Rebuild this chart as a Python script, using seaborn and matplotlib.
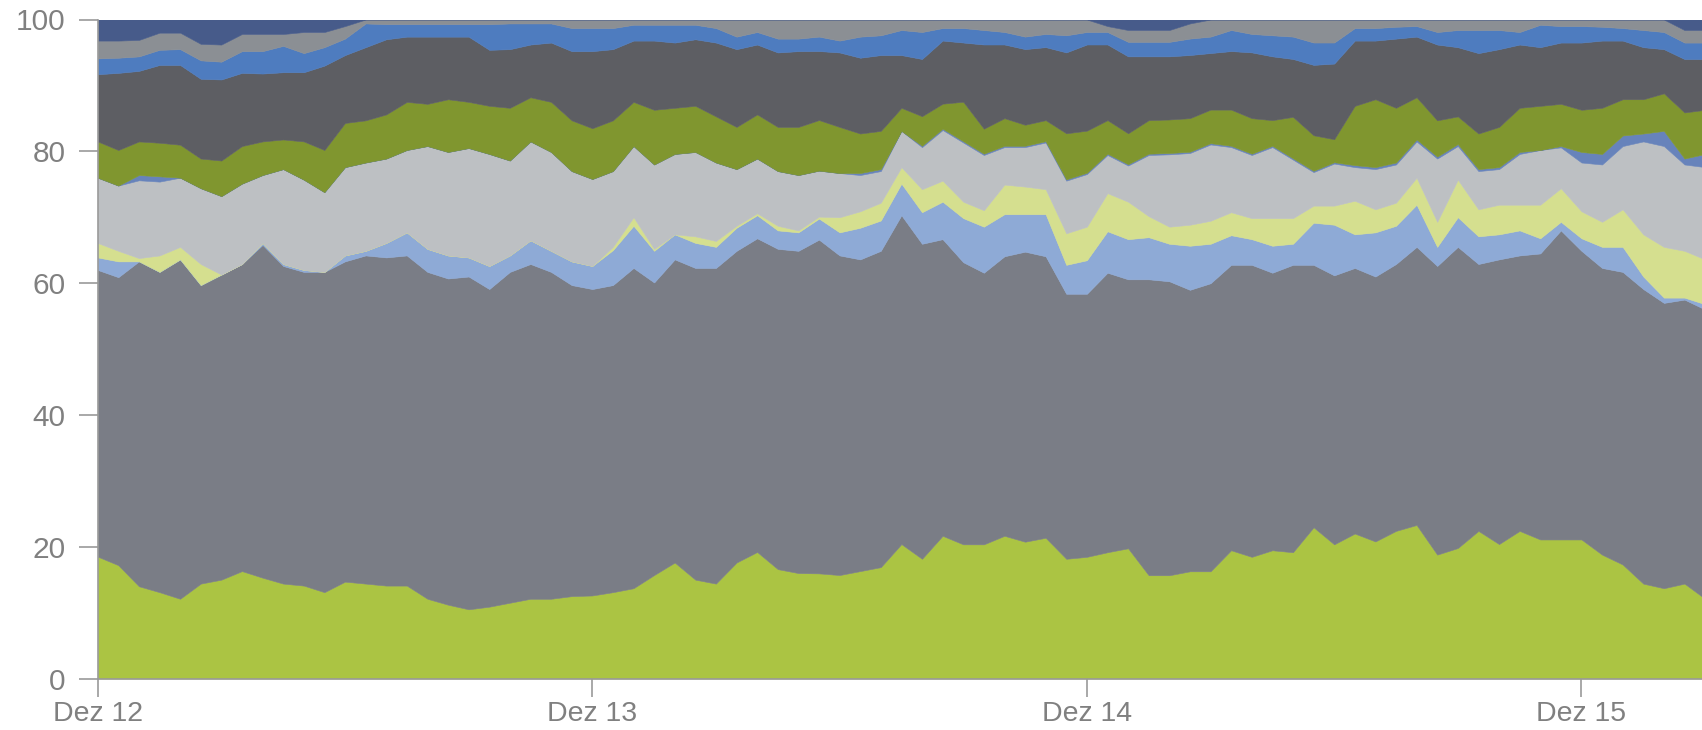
import numpy as np
import pandas as pd
import matplotlib
matplotlib.use("Agg")
import matplotlib.pyplot as plt
import seaborn as sns

# Stündliche Anteile in %, von unten nach oben gestapelt (Dez 12 00:00 bis ca. Dez 15 06:00)
hours = pd.date_range("2013-12-12 00:00", periods=79, freq="h")

lime = [18.5, 17.2, 14.0, 13.1, 12.1, 14.4, 15.0, 16.3, 15.3, 14.4,
        14.1, 13.1, 14.7, 14.4, 14.1, 14.1, 12.1, 11.2, 10.5, 10.9,
        11.5, 12.1, 12.1, 12.5, 12.6, 13.1, 13.7, 15.7, 17.6, 15.0,
        14.4, 17.6, 19.2, 16.6, 16.0, 16.0, 15.7, 16.3, 16.9, 20.4,
        18.2, 21.7, 20.4, 20.4, 21.7, 20.8, 21.4, 18.2, 18.5, 19.2,
        19.8, 15.7, 15.7, 16.3, 16.3, 19.5, 18.5, 19.5, 19.2, 23.0,
        20.4, 22.0, 20.8, 22.4, 23.3, 18.8, 19.8, 22.4, 20.4, 22.4,
        21.1, 21.1, 21.1, 18.8, 17.3, 14.4, 13.7, 14.4, 12.1]
gray = [43.5, 43.7, 49.3, 48.6, 51.5, 45.3, 46.3, 46.6, 50.5, 48.2,
        47.6, 48.6, 48.6, 49.8, 49.8, 50.1, 49.6, 49.5, 50.5, 48.2,
        50.2, 50.8, 49.6, 47.2, 46.5, 46.6, 48.6, 44.4, 46.0, 47.3,
        47.9, 47.3, 47.6, 48.6, 48.9, 50.8, 48.5, 47.3, 48.0, 49.9,
        47.9, 45.1, 42.9, 41.3, 42.5, 44.1, 42.8, 40.3, 40.0, 42.5,
        40.9, 45.0, 44.7, 42.8, 43.8, 43.4, 44.4, 42.2, 43.7, 39.9,
        40.9, 40.3, 40.2, 40.5, 42.2, 43.8, 45.7, 40.5, 43.2, 41.8,
        43.4, 46.9, 43.8, 43.5, 44.4, 44.7, 43.3, 43.1, 43.9]
light_blue = [1.9, 2.4, 0.0, 0.0, 0.0, 0.0, 0.0, 0.0, 0.3, 0.3,
              0.3, 0.0, 0.9, 0.7, 2.2, 3.5, 3.5, 3.5, 2.9, 3.5,
              2.5, 3.6, 3.2, 3.6, 3.5, 5.3, 6.4, 4.8, 3.8, 3.8,
              3.2, 3.5, 3.5, 2.8, 2.8, 3.2, 3.5, 4.8, 4.6, 4.8,
              4.8, 5.7, 6.7, 7.0, 6.4, 5.7, 6.4, 4.4, 5.1, 6.3,
              6.1, 6.4, 5.7, 6.7, 6.0, 4.5, 3.9, 4.1, 3.2, 6.4,
              7.7, 5.1, 6.7, 5.8, 6.4, 2.9, 4.5, 4.2, 3.8, 3.8,
              2.3, 1.3, 1.9, 3.2, 3.8, 1.9, 0.8, 0.3, 0.8]
light_yellow = [2.2, 1.6, 0.5, 2.5, 1.9, 3.2, 0.0, 0.0, 0.0, 0.0,
                0.0, 0.0, 0.0, 0.0, 0.0, 0.0, 0.0, 0.0, 0.0, 0.0,
                0.0, 0.0, 0.0, 0.0, 0.0, 0.5, 1.3, 0.3, 0.0, 1.0,
                0.9, 0.3, 0.3, 0.7, 0.3, 0.3, 2.3, 2.5, 2.7, 2.5,
                3.5, 3.2, 2.5, 2.5, 4.5, 4.2, 3.8, 4.8, 5.1, 5.8,
                5.7, 3.2, 2.6, 3.2, 3.5, 3.5, 3.2, 4.2, 3.9, 2.6,
                2.9, 5.1, 3.5, 3.5, 4.1, 3.8, 5.7, 4.1, 4.5, 3.9,
                5.1, 5.1, 4.1, 3.8, 5.7, 6.4, 7.7, 7.1, 6.8]
light_gray = [9.9, 9.9, 11.8, 11.2, 10.5, 11.5, 11.9, 12.2, 10.3, 14.4,
              13.7, 12.1, 13.4, 13.4, 12.8, 12.5, 15.6, 15.7, 16.6, 17.0,
              14.4, 15.0, 15.0, 13.7, 13.2, 11.5, 10.8, 12.8, 12.2, 12.8,
              11.9, 8.6, 8.3, 8.3, 8.4, 7.0, 6.7, 5.5, 4.8, 5.5,
              6.4, 7.7, 9.0, 8.4, 5.7, 6.0, 7.1, 8.0, 8.0, 5.8,
              5.5, 9.3, 11.0, 10.9, 11.6, 9.9, 9.6, 10.8, 8.9, 5.1,
              6.4, 5.1, 6.1, 5.8, 5.5, 9.6, 5.1, 5.8, 5.4, 7.7,
              8.3, 6.2, 7.4, 8.7, 9.6, 14.1, 15.3, 13.1, 14.0]
slate = [0.0, 0.0, 0.8, 0.8, 0.0, 0.0, 0.0, 0.0, 0.0, 0.0,
         0.0, 0.0, 0.0, 0.0, 0.0, 0.0, 0.0, 0.0, 0.0, 0.0,
         0.0, 0.0, 0.0, 0.0, 0.0, 0.0, 0.0, 0.0, 0.0, 0.0,
         0.0, 0.0, 0.0, 0.0, 0.0, 0.0, 0.0, 0.3, 0.3, 0.0,
         0.2, 0.2, 0.2, 0.2, 0.2, 0.2, 0.2, 0.2, 0.2, 0.2,
         0.2, 0.2, 0.2, 0.2, 0.2, 0.2, 0.2, 0.2, 0.2, 0.2,
         0.2, 0.3, 0.3, 0.3, 0.3, 0.3, 0.3, 0.3, 0.3, 0.3,
         0.0, 0.2, 1.6, 1.6, 1.6, 1.2, 2.3, 0.9, 2.0]
olive = [5.5, 5.4, 5.1, 5.1, 5.0, 4.5, 5.4, 5.7, 5.1, 4.5,
         5.8, 6.4, 6.7, 6.4, 6.7, 7.3, 6.4, 8.0, 7.0, 7.3,
         8.0, 6.7, 7.6, 7.7, 7.7, 7.7, 6.7, 8.3, 7.0, 7.0,
         7.0, 6.4, 6.7, 6.7, 7.3, 7.7, 7.0, 6.0, 5.8, 3.5,
         4.5, 3.8, 6.0, 3.8, 4.2, 3.2, 3.2, 7.0, 6.4, 5.1,
         4.7, 5.1, 5.1, 5.1, 5.1, 5.5, 5.4, 3.9, 6.3, 5.4,
         3.5, 9.0, 10.3, 8.3, 6.4, 5.5, 4.2, 5.4, 6.1, 6.7,
         6.7, 6.4, 6.4, 7.0, 5.5, 5.2, 5.7, 7.0, 6.7]
dark_gray = [10.2, 11.7, 10.7, 11.8, 12.1, 12.1, 12.3, 11.1, 10.3, 10.2,
             10.5, 12.8, 10.3, 11.1, 11.4, 9.9, 10.2, 9.5, 9.9, 8.5,
             8.9, 8.0, 9.0, 10.5, 11.7, 10.8, 9.3, 10.5, 9.9, 10.1,
             11.2, 11.8, 10.6, 11.3, 11.5, 10.5, 11.3, 11.5, 11.5, 8.0,
             8.7, 9.6, 9.0, 12.8, 11.2, 11.5, 11.1, 12.3, 13.1, 11.5,
             11.7, 9.7, 9.6, 9.6, 8.6, 8.9, 10.0, 9.7, 8.8, 10.7,
             11.5, 9.9, 8.9, 10.5, 9.2, 11.5, 10.5, 12.2, 11.8, 9.6,
             8.9, 9.3, 10.2, 10.2, 8.9, 7.9, 6.7, 8.1, 7.7]
blue = [2.4, 2.3, 2.2, 2.3, 2.4, 2.8, 2.7, 3.3, 3.4, 4.0,
        2.9, 2.8, 2.5, 3.6, 2.3, 1.9, 1.9, 1.9, 1.9, 3.9,
        3.9, 3.2, 2.9, 3.5, 3.5, 3.2, 2.4, 2.4, 2.7, 2.2,
        2.2, 1.9, 1.9, 2.1, 1.9, 2.2, 1.8, 3.2, 3.0, 3.8,
        4.1, 1.9, 2.2, 2.2, 1.9, 1.9, 2.0, 2.6, 1.9, 1.9,
        2.2, 2.2, 2.2, 2.5, 2.5, 3.2, 2.8, 3.2, 3.4, 3.4,
        3.2, 1.9, 1.9, 1.8, 1.6, 1.9, 2.6, 3.5, 2.9, 1.9,
        3.4, 2.5, 2.5, 2.1, 1.9, 2.6, 2.6, 2.5, 2.5]
mid_gray = [2.7, 2.6, 2.5, 2.6, 2.5, 2.5, 2.6, 2.6, 2.6, 1.8,
            3.2, 2.3, 1.9, 0.6, 0.7, 0.7, 0.7, 0.7, 0.7, 0.7,
            0.6, 0.6, 0.6, 1.3, 1.3, 1.3, 0.8, 0.8, 0.8, 0.8,
            1.3, 2.6, 1.9, 2.9, 2.9, 2.6, 3.2, 2.6, 2.4, 1.6,
            1.9, 1.3, 1.3, 1.6, 1.9, 2.6, 2.2, 2.4, 1.9, 0.9,
            1.8, 1.8, 1.8, 2.3, 2.6, 1.6, 2.2, 2.4, 2.6, 3.5,
            3.5, 1.3, 1.3, 1.1, 1.0, 1.9, 1.6, 1.6, 1.6, 1.9,
            0.8, 1.0, 1.0, 1.1, 1.3, 1.6, 1.9, 1.9, 1.9]
navy = [3.2, 3.2, 3.1, 2.0, 2.0, 3.7, 3.8, 2.2, 2.2, 2.2,
        1.9, 1.9, 1.0, 0.0, 0.0, 0.0, 0.0, 0.0, 0.0, 0.0,
        0.0, 0.0, 0.0, 0.0, 0.0, 0.0, 0.0, 0.0, 0.0, 0.0,
        0.0, 0.0, 0.0, 0.0, 0.0, 0.0, 0.0, 0.0, 0.0, 0.0,
        0.0, 0.0, 0.0, 0.0, 0.0, 0.0, 0.0, 0.0, 0.0, 1.0,
        1.6, 1.6, 1.6, 0.6, 0.0, 0.0, 0.0, 0.0, 0.0, 0.0,
        0.0, 0.0, 0.0, 0.0, 0.0, 0.0, 0.0, 0.0, 0.0, 0.0,
        0.0, 0.0, 0.0, 0.0, 0.0, 0.0, 0.0, 1.6, 1.6]

day_ticks = ["2013-12-12", "2013-12-13", "2013-12-14", "2013-12-15"]
day_labels = ["Dez 12", "Dez 13", "Dez 14", "Dez 15"]

df = pd.DataFrame({
    "lime": lime, "gray": gray, "light_blue": light_blue,
    "light_yellow": light_yellow, "light_gray": light_gray, "slate": slate,
    "olive": olive, "dark_gray": dark_gray, "blue": blue,
    "mid_gray": mid_gray, "navy": navy,
}, index=hours)
# auf 100 % normieren
df = df.div(df.sum(axis=1), axis=0) * 100

colors = ["#abc443", "#7a7d86", "#8eaad6", "#d5df8f", "#bdc0c3", "#6783bb",
          "#80962f", "#5d5e63", "#4e7cbf", "#8b8f94", "#475b8a"]

sns.set_theme(style="white")
plt.rcParams["font.family"] = ["Liberation Sans", "DejaVu Sans"]

W, H = 1702, 730
fig = plt.figure(figsize=(W / 100, H / 100), dpi=100)
ax = fig.add_axes([97.7 / W, 51.5 / H, 1 - 97.7 / W, 659 / H])

ax.stackplot(df.index, df.T.values, colors=colors, edgecolor="face", linewidth=0.4)

ax.set_ylim(0, 100)
ax.set_xlim(hours[0], hours[0] + pd.Timedelta(hours=77.85))
ax.set_yticks([0, 20, 40, 60, 80, 100])
ax.set_xticks(pd.to_datetime(day_ticks))
ax.set_xticklabels(day_labels)

txt = "#808080"
ax.tick_params(axis="y", length=14, width=1.2, pad=9, color="#999999",
               labelcolor=txt, labelsize=21.5, left=True)
ax.tick_params(axis="x", length=13, width=1.2, pad=3, color="#999999",
               labelcolor=txt, labelsize=20.5, bottom=True)

for s in ["top", "right"]:
    ax.spines[s].set_visible(False)
for s in ["left", "bottom"]:
    ax.spines[s].set_color("#999999")
    ax.spines[s].set_linewidth(1.2)

ax.set_xlabel("")
ax.set_ylabel("")

fig.savefig("out.png", dpi=100)
